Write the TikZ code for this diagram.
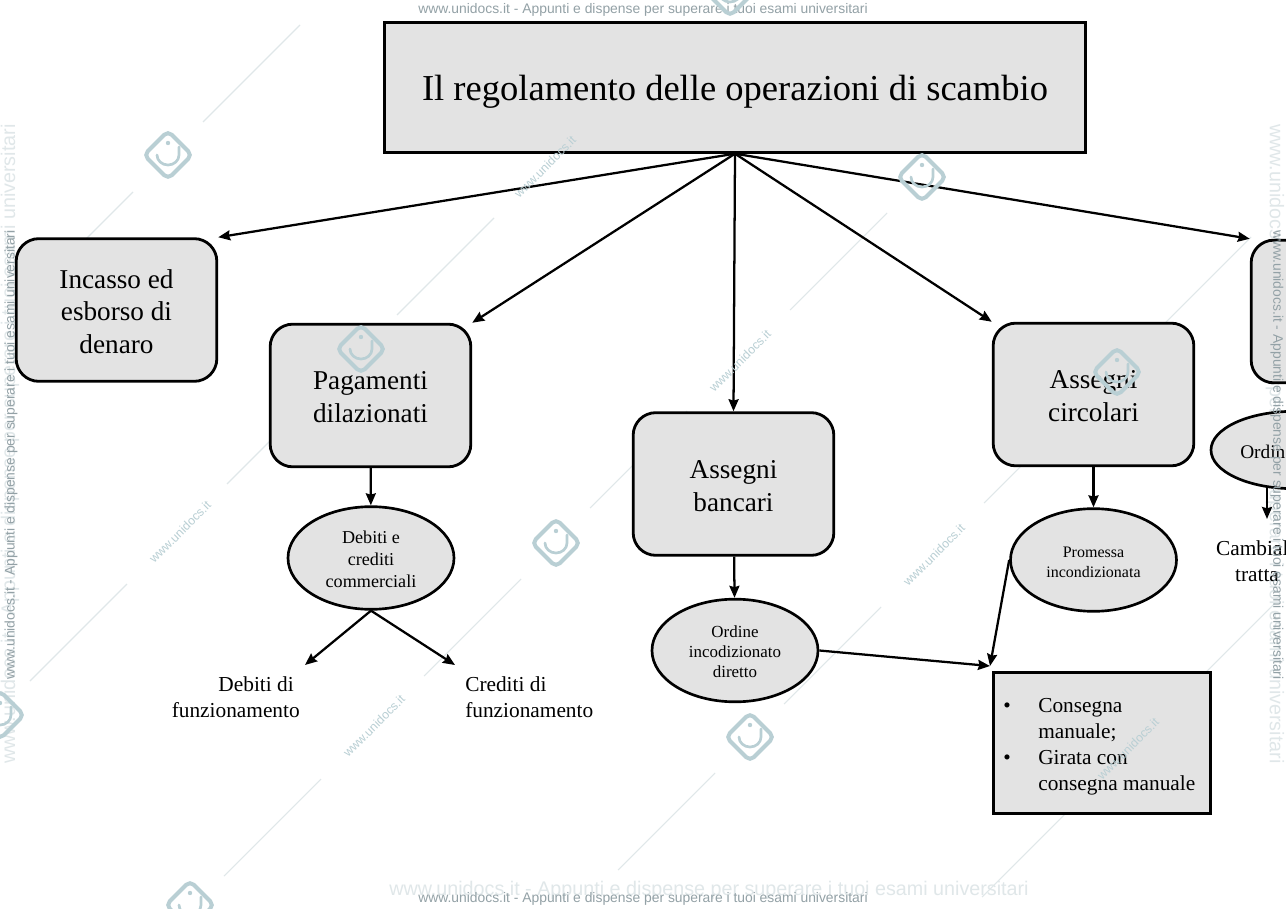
\documentclass[tikz,border=0pt]{standalone}
\usepackage{fontspec}
\setmainfont{Liberation Serif}
\setsansfont{Liberation Sans}
\usetikzlibrary{arrows.meta,shapes.geometric}
\definecolor{boxgray}{HTML}{E3E3E3}
\definecolor{markgray}{HTML}{93A1A6}
\definecolor{marksoft}{HTML}{E0E7E9}
\definecolor{marklogo}{HTML}{B9CFD4}
\newcommand{\marktext}{www.unidocs.it - Appunti e dispense per superare i tuoi esami universitari}
\newcommand{\boxstrut}{\rule{0pt}{16.4pt}}
\newcommand{\ovalstrut}{\rule{0pt}{11.2pt}}
\tikzset{
	titlebox/.style={draw,line width=2.3pt,fill=boxgray,minimum width=526pt,minimum height=97pt,text height=25pt,text depth=6pt,font=\fontsize{27.4}{32}\selectfont},
	roundbox/.style={draw,line width=2.1pt,fill=boxgray,rounded corners=17pt,minimum width=150.5pt,minimum height=107pt,align=center,font=\fontsize{20.4}{24.6}\selectfont},
	ovalbox/.style={draw,line width=2pt,fill=boxgray,ellipse,minimum width=124.5pt,minimum height=77pt,inner sep=0pt,align=center},
	listbox/.style={draw,line width=2.3pt,fill=boxgray,minimum width=163pt,minimum height=106pt},
	plainlabel/.style={font=\fontsize{16}{19.4}\selectfont},
	link/.style={line width=1.7pt,-{Stealth[length=9pt,width=7.5pt,inset=1pt]}},
	markhead/.style={text=markgray,font=\sffamily\fontsize{10.4}{12}\selectfont},
	marksmall/.style={text=marklogo,rotate=45,font=\sffamily\fontsize{9.2}{11}\selectfont},
	markbig/.style={text=marksoft,font=\sffamily\fontsize{14.8}{17}\selectfont},
	markline/.style={marksoft,line width=0.8pt},
}
\begin{document}
\begin{tikzpicture}[x=0.75pt,y=-0.75pt]
	\useasboundingbox (0,0) rectangle (1286,909);
	\fill[white] (0,0) rectangle (1286,909);
	% faint marks under everything
	\foreach \mx/\my in {203/122,36/289,227/484,397/315,593/121,30/681,424/676,224/876,590/508,618/870,984/503,784/704,982/897,1178/700,790/310,957/143,1154/334}
		\draw[markline] (\mx,\my) -- ++(97,-97);
	\node[markbig] (markfoot) at (709,890) {\marktext};
	\node[markbig,rotate=90] (markleft) at (10,444) {\marktext};
	\node[markbig,rotate=-90] (markright) at (1275,444) {\marktext};
	% title
	\node[titlebox] (title) at (735,87.5) {Il regolamento delle operazioni di scambio};
	% boxes
	\node[roundbox] (incasso) at (116.5,310) {\boxstrut Incasso ed\\esborso di\\denaro};
	\node[roundbox] (pagamenti) at (370.5,395.5) {\boxstrut Pagamenti\\dilazionati};
	\node[roundbox] (bancari) at (733.5,484) {\boxstrut Assegni\\bancari};
	\node[roundbox] (circolari) at (1093.5,394.5) {\boxstrut Assegni\\circolari};
	\node[roundbox] (cambiali) at (1351.5,311.5) {};
	% ellipses
	\node[ovalbox,font=\fontsize{13.6}{16.3}\selectfont] (debiti) at (371,558) {\ovalstrut Debiti e\\crediti\\commerciali};
	\node[ovalbox,font=\fontsize{12.7}{15}\selectfont] (ordine) at (735,650.5) {\ovalstrut Ordine\\incodizionato\\diretto};
	\node[ovalbox,font=\fontsize{12}{14.5}\selectfont] (promessa) at (1093.5,560) {\ovalstrut Promessa\\incondizionata};
	\node[ovalbox,minimum height=58pt] (tratta) at (1294,450) {};
	\node[anchor=west,inner sep=0pt,font=\fontsize{14.5}{17}\selectfont] (trattalabel) at (1240,452) {Ordine};
	% plain labels
	\node[plainlabel,align=right,anchor=east,inner sep=0pt] (debfunz) at (300,697.5) {Debiti di\hspace*{4.5pt}\\funzionamento};
	\node[plainlabel,align=left,anchor=west,inner sep=0pt] (credfunz) at (465,697.5) {Crediti di\\funzionamento};
	\node[plainlabel,align=center] (cambiale) at (1257,561) {Cambiale\\tratta};
	\node[listbox] (consegna) at (1102,743) {};
	\node[plainlabel,align=left,anchor=west,inner sep=0pt] (consegnatext) at (1003,747) {\makebox[26.3pt][l]{\textbullet}Consegna\\\hspace*{26.3pt}manuale;\\\makebox[26.3pt][l]{\textbullet}Girata con\\\hspace*{26.3pt}consegna manuale};
	% free ends
	\coordinate (debend) at (305,665);
	\coordinate (credend) at (455,665);
	\coordinate (listend) at (990,666);
	\coordinate (trattaend) at (1267,519);
	\coordinate (trattastart) at (1267,488);
	% connectors
	\draw[link] (title.south) -- (incasso.north east);
	\draw[link] (title.south) -- (pagamenti.north east);
	\draw[link] (title.south) -- (bancari.north);
	\draw[link] (title.south) -- (circolari.north west);
	\draw[link] (title.south) -- (cambiali.north west);
	\draw[link] (pagamenti) -- (debiti);
	\draw[link] (bancari) -- (ordine);
	\draw[link] (circolari) -- (promessa);
	\draw[link] (debiti.south) -- (debend);
	\draw[link] (debiti.south) -- (credend);
	\draw[link] (ordine.east) -- (listend);
	\draw[link] (promessa.west) -- (listend);
	\draw[link] (trattastart) -- (trattaend);
	% watermark on top
	\node[markhead] (markhigh) at (643,10) {\marktext};
	\node[markhead] (marklow) at (643,899) {\marktext};
	\node[markhead,rotate=90] (markside) at (11,455) {\marktext};
	\node[markhead,rotate=-90] (markother) at (1277,455) {\marktext};
	\foreach \mx/\my in {180/532,374/726,545/167,740/361,934/555,1128/749}
		\node[marksmall] at (\mx,\my) {www.unidocs.it};
	\foreach \mx/\my in {168/155,361/349,556/543,750/737,922/177,1117/372,0/715,190/905,730/-8}
	{
		\draw[marklogo,line width=3pt,rounded corners=4pt] (\mx-24,\my) -- (\mx,\my-24) -- (\mx+24,\my) -- (\mx,\my+24) -- cycle;
		\draw[marklogo,line width=2pt,line cap=round] (\mx-11,\my) arc[start angle=180,end angle=360,x radius=11,y radius=-10] -- ++(0,-8);
		\fill[marklogo] (\mx,\my-12) circle[radius=2.2];
	}
\end{tikzpicture}
\end{document}
